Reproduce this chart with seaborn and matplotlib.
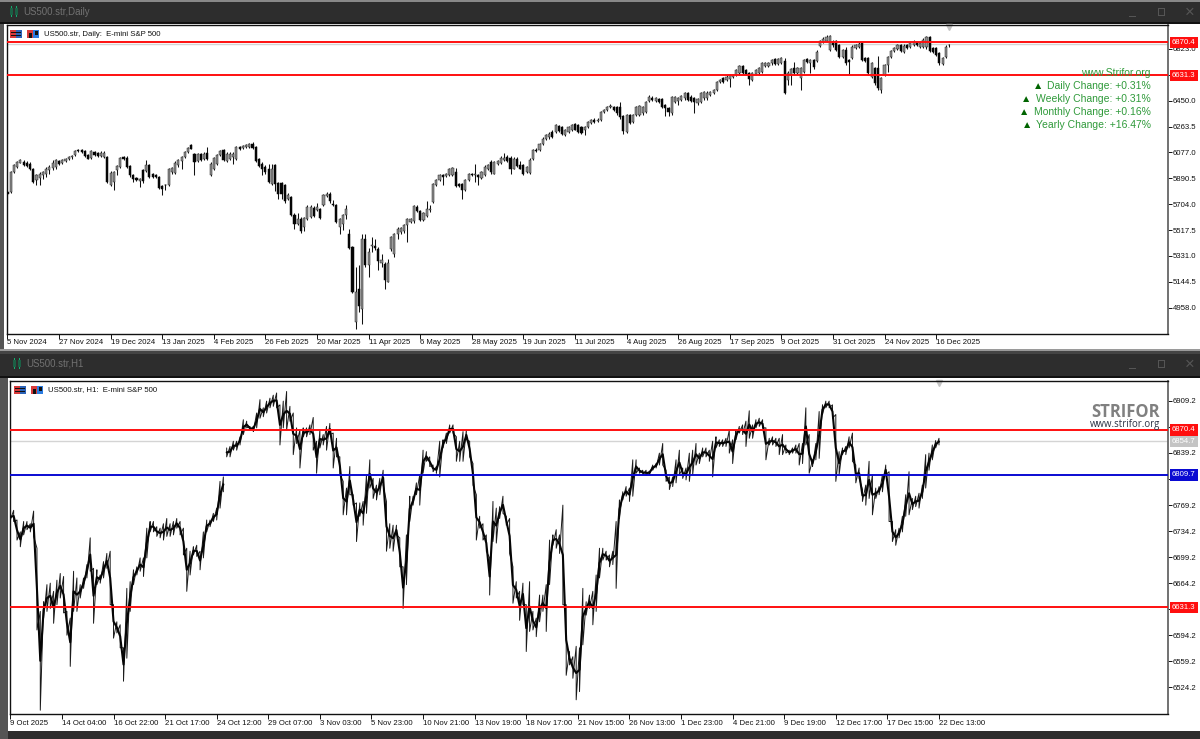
import numpy as np
import pandas as pd
import seaborn as sns
from matplotlib import pyplot as plt
from matplotlib.patches import Rectangle
from matplotlib.transforms import blended_transform_factory

W, H = 1200, 739

# Daily candles
daily_open = [
    5792, 5792, 5936, 5972, 6004, 6008, 6004, 5996, 5960, 5876, 5893, 5912, 5924, 5948, 5965, 5972,
    6013, 6004, 6013, 6028, 6042, 6057, 6093, 6095, 6085, 6060, 6037, 6080, 6071, 6052, 6042, 6045,
    5845, 5864, 5948, 5972, 6045, 6040, 5980, 5912, 5893, 5870, 5948, 5941, 5989, 5924, 5917, 5900,
    5835, 5840, 5840, 5936, 5931, 5984, 6013, 6045, 6081, 6129, 6069, 6013, 6069, 6032, 6076, 5917,
    5960, 5996, 6057, 6093, 6013, 6028, 6045, 6032, 6117, 6109, 6117, 6117, 6141, 6117, 6032, 5996,
    5972, 5960, 5852, 5989, 5859, 5859, 5845, 5739, 5756, 5624, 5564, 5600, 5540, 5600, 5612, 5677,
    5660, 5672, 5696, 5763, 5780, 5708, 5696, 5540, 5564, 5628, 5491, 5395, 4854, 5090, 4950, 5455,
    5268, 5402, 5402, 5383, 5282, 5275, 5147, 5378, 5347, 5491, 5503, 5508, 5556, 5575, 5580, 5684,
    5652, 5588, 5619, 5660, 5720, 5845, 5876, 5917, 5907, 5912, 5912, 5936, 5852, 5852, 5804, 5876,
    5924, 5912, 5912, 5893, 5912,
    5961, 6009, 5925, 5997, 6002, 6021, 6045, 6040, 5961, 6033, 5985, 5985, 5937, 5930, 6033, 6098,
    6093, 6141, 6177, 6185, 6225, 6225, 6266, 6257, 6201, 6225, 6237, 6281, 6274, 6261, 6237, 6257,
    6290, 6314, 6305, 6314, 6370, 6382, 6401, 6401, 6401, 6401, 6338, 6225, 6346, 6298, 6346, 6346,
    6358, 6370, 6449, 6466, 6449, 6459, 6459, 6418, 6394, 6358, 6442, 6449, 6454, 6466, 6502, 6478,
    6466, 6430, 6442, 6466, 6466, 6490, 6507, 6526, 6586, 6610, 6598, 6603, 6617, 6634, 6646, 6699,
    6670, 6646, 6598, 6642, 6646, 6658, 6699, 6699, 6718, 6747, 6714, 6723, 6738, 6598, 6634, 6682,
    6646, 6610, 6658, 6747, 6723, 6742, 6738, 6844, 6875, 6882, 6815, 6875, 6882, 6851, 6762, 6815,
    6742, 6755, 6827, 6839, 6863, 6755, 6755, 6622, 6682, 6682, 6526, 6634, 6706, 6762, 6810, 6820,
    6851, 6803, 6851, 6839, 6851, 6870, 6839, 6839, 6834, 6906, 6827, 6827, 6791, 6714, 6762, 6848,
]
daily_close = [
    5780, 5936, 5984, 6008, 6020, 5989, 5980, 5960, 5864, 5912, 5924, 5936, 5960, 5972, 6004, 6020,
    5996, 6020, 6032, 6045, 6052, 6085, 6085, 6080, 6052, 6032, 6085, 6057, 6052, 6076, 6076, 5864,
    5931, 5936, 5980, 6037, 6032, 5972, 5912, 5883, 5876, 5885, 5869, 5984, 5900, 5900, 5898, 5821,
    5816, 5845, 5956, 5965, 6004, 6020, 6045, 6081, 6109, 6105, 6008, 6069, 6020, 6069, 6032, 5996,
    6037, 6061, 6085, 6020, 6069, 6069, 6069, 6117, 6105, 6124, 6129, 6141, 6109, 6013, 5980, 5960,
    5936, 5864, 5956, 5852, 5780, 5780, 5725, 5773, 5624, 5564, 5600, 5508, 5604, 5684, 5684, 5619,
    5684, 5604, 5768, 5780, 5725, 5696, 5576, 5600, 5628, 5672, 5388, 5070, 5070, 4974, 5455, 5263,
    5359, 5412, 5388, 5292, 5299, 5155, 5282, 5467, 5491, 5527, 5532, 5551, 5595, 5595, 5691, 5652,
    5588, 5643, 5667, 5672, 5852, 5876, 5912, 5900, 5924, 5960, 5965, 5835, 5835, 5804, 5876, 5924,
    5912, 5924, 5900, 5936, 5972,
    5985, 5937, 6009, 6014, 6040, 6040, 6016, 5961, 6033, 5978, 5961, 5920, 5973, 6026, 6093, 6088,
    6136, 6177, 6201, 6213, 6189, 6274, 6233, 6209, 6237, 6261, 6274, 6242, 6225, 6218, 6261, 6298,
    6310, 6298, 6314, 6370, 6382, 6401, 6411, 6382, 6358, 6329, 6233, 6346, 6290, 6346, 6401, 6411,
    6406, 6442, 6478, 6454, 6466, 6442, 6406, 6394, 6370, 6473, 6478, 6466, 6483, 6502, 6454, 6449,
    6442, 6459, 6502, 6514, 6507, 6514, 6526, 6586, 6598, 6586, 6622, 6634, 6634, 6670, 6699, 6651,
    6642, 6603, 6646, 6670, 6682, 6718, 6718, 6723, 6742, 6714, 6747, 6755, 6502, 6646, 6675, 6646,
    6682, 6682, 6742, 6730, 6742, 6694, 6803, 6882, 6892, 6906, 6916, 6851, 6815, 6767, 6815, 6718,
    6730, 6839, 6851, 6858, 6742, 6738, 6646, 6718, 6574, 6538, 6610, 6706, 6767, 6810, 6827, 6851,
    6810, 6844, 6827, 6868, 6875, 6851, 6868, 6887, 6906, 6810, 6803, 6779, 6718, 6755, 6839, 6851,
]
daily_high = [
    5800, 5945, 5992, 6018, 6030, 6020, 6015, 6008, 5968, 5925, 5935, 5945, 5970, 5985, 6020, 6030,
    6025, 6030, 6040, 6052, 6060, 6095, 6100, 6102, 6095, 6068, 6095, 6090, 6080, 6085, 6085, 6050,
    5940, 5945, 5985, 6045, 6050, 6048, 5985, 5925, 5900, 5895, 5955, 6020, 5995, 5930, 5925, 5908,
    5842, 5852, 5965, 5975, 6012, 6030, 6052, 6090, 6117, 6135, 6075, 6075, 6075, 6078, 6117, 6005,
    6045, 6068, 6095, 6100, 6078, 6078, 6078, 6125, 6125, 6132, 6135, 6148, 6150, 6125, 6040, 6005,
    5985, 5995, 5995, 5995, 5865, 5865, 5852, 5785, 5762, 5640, 5640, 5610, 5612, 5695, 5695, 5690,
    5715, 5680, 5775, 5790, 5790, 5732, 5702, 5608, 5635, 5696, 5523, 5400, 5250, 5263, 5490, 5490,
    5385, 5467, 5455, 5395, 5347, 5285, 5311, 5475, 5500, 5540, 5540, 5562, 5605, 5605, 5700, 5695,
    5660, 5650, 5725, 5700, 5860, 5885, 5920, 5925, 5932, 5968, 5972, 5968, 5860, 5860, 5885, 5932,
    5932, 5996, 5925, 5945, 5985,
    5995, 6020, 6018, 6025, 6050, 6074, 6055, 6050, 6045, 6042, 6016, 5992, 5982, 6035, 6102, 6108,
    6145, 6186, 6210, 6222, 6235, 6285, 6275, 6265, 6245, 6270, 6282, 6290, 6282, 6270, 6270, 6306,
    6318, 6322, 6322, 6378, 6390, 6410, 6425, 6410, 6410, 6442, 6345, 6355, 6355, 6355, 6410, 6420,
    6415, 6450, 6490, 6480, 6478, 6470, 6470, 6428, 6402, 6482, 6486, 6475, 6492, 6512, 6512, 6488,
    6475, 6468, 6510, 6522, 6516, 6522, 6534, 6595, 6608, 6620, 6632, 6642, 6642, 6680, 6708, 6708,
    6680, 6655, 6655, 6680, 6692, 6728, 6728, 6732, 6752, 6755, 6755, 6762, 6755, 6665, 6685, 6730,
    6692, 6690, 6752, 6755, 6752, 6750, 6812, 6890, 6905, 6922, 6925, 6885, 6890, 6860, 6825, 6839,
    6748, 6848, 6860, 6872, 6875, 6762, 6765, 6728, 6692, 6770, 6620, 6716, 6775, 6818, 6835, 6860,
    6860, 6855, 6860, 6878, 6885, 6880, 6878, 6898, 6915, 6915, 6835, 6835, 6800, 6765, 6848, 6858,
]
daily_low = [
    5715, 5785, 5928, 5965, 5998, 5982, 5972, 5952, 5856, 5840, 5840, 5885, 5900, 5925, 5950, 5960,
    5985, 5995, 6005, 6020, 6030, 6050, 6078, 6072, 6045, 6028, 6030, 6050, 6045, 6045, 6035, 5860,
    5835, 5804, 5915, 5965, 6025, 5965, 5900, 5865, 5868, 5828, 5860, 5935, 5893, 5890, 5890, 5812,
    5768, 5805, 5832, 5925, 5925, 5975, 5960, 6035, 6072, 6100, 5912, 6005, 6012, 6025, 6025, 5910,
    5952, 5988, 6050, 6012, 6005, 6020, 5996, 6025, 6098, 6102, 6110, 6110, 6102, 6005, 5972, 5912,
    5925, 5855, 5845, 5800, 5739, 5740, 5715, 5732, 5618, 5528, 5555, 5500, 5510, 5590, 5605, 5610,
    5652, 5600, 5690, 5755, 5715, 5690, 5570, 5492, 5520, 5600, 5380, 5065, 4806, 4930, 4842, 5255,
    5179, 5359, 5371, 5227, 5251, 5095, 5140, 5370, 5323, 5455, 5490, 5500, 5431, 5565, 5572, 5645,
    5580, 5580, 5612, 5650, 5712, 5838, 5870, 5845, 5900, 5905, 5905, 5828, 5828, 5739, 5798, 5868,
    5905, 5864, 5840, 5885, 5905,
    5950, 5925, 5918, 5990, 5995, 6012, 6008, 5925, 5955, 5970, 5955, 5912, 5930, 5922, 6025, 6080,
    6085, 6132, 6170, 6175, 6180, 6215, 6225, 6200, 6195, 6218, 6230, 6235, 6215, 6210, 6200, 6250,
    6282, 6290, 6298, 6305, 6362, 6375, 6395, 6375, 6350, 6320, 6213, 6215, 6282, 6290, 6338, 6338,
    6350, 6362, 6440, 6445, 6440, 6435, 6398, 6338, 6340, 6346, 6435, 6418, 6445, 6458, 6445, 6440,
    6358, 6422, 6435, 6458, 6458, 6482, 6498, 6518, 6578, 6578, 6590, 6550, 6610, 6625, 6638, 6642,
    6634, 6562, 6590, 6634, 6638, 6650, 6690, 6692, 6710, 6706, 6706, 6715, 6495, 6560, 6562, 6638,
    6640, 6526, 6650, 6722, 6651, 6675, 6730, 6836, 6868, 6875, 6805, 6840, 6808, 6758, 6755, 6710,
    6639, 6748, 6820, 6830, 6735, 6730, 6638, 6615, 6565, 6530, 6507, 6626, 6655, 6755, 6803, 6812,
    6802, 6795, 6820, 6830, 6843, 6843, 6830, 6830, 6825, 6800, 6795, 6770, 6710, 6705, 6755, 6840,
]
daily_ticks = [
    "5 Nov 2024", "27 Nov 2024", "19 Dec 2024", "13 Jan 2025", "4 Feb 2025", "26 Feb 2025",
    "20 Mar 2025", "11 Apr 2025", "6 May 2025", "28 May 2025", "19 Jun 2025", "11 Jul 2025",
    "4 Aug 2025", "26 Aug 2025", "17 Sep 2025", "9 Oct 2025", "31 Oct 2025", "24 Nov 2025",
    "16 Dec 2025",
]
daily_prices = [4958.0, 5144.5, 5331.0, 5517.5, 5704.0, 5890.5, 6077.0, 6263.5, 6450.0, 6636.5, 6823.0]

# Hourly high/low range per small group of bars
h1_high = [
    6757, 6762, 6749, 6733, 6747, 6747, 6744, 6761, 6711, 6626, 6639, 6662, 6664, 6653, 6668, 6677,
    6673, 6626, 6617, 6680, 6671, 6662, 6671, 6689, 6725, 6684, 6682, 6675, 6693, 6704, 6707, 6635,
    6612, 6608, 6577, 6657, 6666, 6682, 6686, 6698, 6698, 6738, 6747, 6747, 6740, 6738, 6744, 6751,
    6744, 6747, 6751, 6747, 6738, 6711, 6707, 6713, 6715, 6707, 6733, 6749, 6749, 6758, 6765, 6801,
    6807,
    6846, 6848, 6855, 6855, 6861, 6884, 6882, 6875, 6875, 6893, 6911, 6900, 6909, 6913, 6917, 6920,
    6904, 6909, 6922, 6902, 6893, 6873, 6870, 6873, 6873, 6877, 6887, 6855, 6870, 6864, 6875, 6879,
    6866, 6859, 6834, 6801, 6792, 6821, 6783, 6772, 6772, 6774, 6810, 6830, 6805, 6796, 6805, 6816,
    6774, 6744, 6742, 6742, 6725, 6686, 6729, 6781, 6781, 6799, 6810, 6843, 6841, 6834, 6823, 6821,
    6855, 6857, 6866, 6877, 6877, 6861, 6855, 6868, 6870, 6855, 6825, 6783, 6754, 6744, 6729, 6698,
    6774, 6765, 6767, 6781, 6754, 6751, 6686, 6666, 6653, 6664, 6635, 6666, 6626, 6617, 6648, 6648,
    6662, 6722, 6729, 6736, 6729, 6769, 6635, 6572, 6565, 6579, 6577, 6657, 6639, 6648, 6653, 6675,
    6711, 6711, 6707, 6702, 6707, 6747, 6776, 6787, 6794, 6792, 6830, 6830, 6819, 6816, 6816, 6815,
    6823, 6825, 6839, 6852, 6816, 6807, 6807, 6830, 6843, 6819, 6819, 6839, 6843, 6852, 6839, 6846,
    6846, 6843, 6855, 6861, 6857, 6857, 6859, 6870, 6857, 6870, 6875, 6877, 6882, 6896, 6877, 6884,
    6886, 6884, 6873, 6859, 6861, 6859, 6859, 6864, 6850, 6843, 6846, 6850, 6852, 6852, 6900, 6864,
    6830, 6852, 6895, 6904, 6909, 6909, 6904, 6891, 6841, 6846, 6848, 6861, 6866, 6823, 6819, 6790,
    6796, 6828, 6810, 6792, 6794, 6810, 6823, 6814, 6747, 6736, 6738, 6754, 6783, 6814, 6778, 6781,
    6785, 6796, 6837, 6839, 6850, 6856, 6859,
]
h1_low = [
    6749, 6747, 6722, 6713, 6729, 6736, 6733, 6727, 6601, 6493, 6617, 6626, 6630, 6610, 6635, 6644,
    6624, 6594, 6552, 6626, 6626, 6644, 6657, 6671, 6680, 6610, 6662, 6664, 6671, 6684, 6635, 6590,
    6597, 6577, 6532, 6563, 6626, 6662, 6675, 6680, 6673, 6698, 6733, 6733, 6727, 6725, 6722, 6727,
    6727, 6729, 6738, 6729, 6702, 6653, 6675, 6702, 6700, 6682, 6698, 6733, 6740, 6747, 6749, 6765,
    6787,
    6834, 6834, 6843, 6843, 6850, 6864, 6873, 6870, 6868, 6873, 6886, 6888, 6893, 6900, 6902, 6900,
    6850, 6873, 6870, 6882, 6837, 6852, 6819, 6861, 6861, 6864, 6843, 6812, 6846, 6850, 6843, 6864,
    6819, 6834, 6810, 6756, 6756, 6783, 6769, 6720, 6754, 6742, 6758, 6792, 6778, 6776, 6783, 6796,
    6707, 6711, 6707, 6729, 6686, 6630, 6662, 6747, 6769, 6783, 6769, 6812, 6828, 6821, 6814, 6812,
    6807, 6846, 6852, 6866, 6866, 6828, 6828, 6828, 6857, 6834, 6796, 6722, 6738, 6722, 6707, 6648,
    6720, 6718, 6751, 6758, 6742, 6704, 6637, 6644, 6614, 6635, 6572, 6599, 6601, 6592, 6612, 6626,
    6599, 6662, 6715, 6711, 6704, 6635, 6540, 6554, 6536, 6507, 6518, 6581, 6621, 6630, 6608, 6626,
    6671, 6695, 6695, 6686, 6689, 6657, 6751, 6776, 6781, 6774, 6781, 6812, 6812, 6810, 6809, 6810,
    6816, 6819, 6823, 6823, 6801, 6790, 6794, 6799, 6810, 6805, 6803, 6801, 6810, 6823, 6825, 6834,
    6834, 6828, 6807, 6846, 6848, 6848, 6848, 6839, 6825, 6857, 6866, 6864, 6848, 6859, 6859, 6873,
    6875, 6873, 6830, 6850, 6850, 6848, 6837, 6837, 6839, 6837, 6839, 6839, 6823, 6825, 6850, 6812,
    6821, 6830, 6832, 6891, 6900, 6900, 6886, 6801, 6810, 6837, 6837, 6846, 6828, 6799, 6805, 6774,
    6769, 6778, 6756, 6778, 6783, 6787, 6810, 6747, 6720, 6715, 6725, 6733, 6754, 6756, 6763, 6767,
    6765, 6778, 6792, 6816, 6830, 6846, 6850,
]
h1_gap_after = 65  # first group of the session after the weekend gap
h1_ticks = [
    "9 Oct 2025", "14 Oct 04:00", "16 Oct 22:00", "21 Oct 17:00", "24 Oct 12:00", "29 Oct 07:00",
    "3 Nov 03:00", "5 Nov 23:00", "10 Nov 21:00", "13 Nov 19:00", "18 Nov 17:00", "21 Nov 15:00",
    "26 Nov 13:00", "1 Dec 23:00", "4 Dec 21:00", "9 Dec 19:00", "12 Dec 17:00", "17 Dec 15:00",
    "22 Dec 13:00",
]
h1_prices = [6524.2, 6559.2, 6594.2, 6629.2, 6664.2, 6699.2, 6734.2, 6769.2, 6804.2, 6839.2, 6874.2, 6909.2]

resistance = 6870.4
support = 6631.3
current = 6854.7
pivot = 6809.7

change_rows = ["Daily Change: +0.31%", "Weekly Change: +0.31%", "Monthly Change: +0.16%", "Yearly Change: +16.47%"]

sns.set_theme(style="white")
plt.rcParams["font.family"] = ["Liberation Sans", "DejaVu Sans"]
plt.rcParams["font.size"] = 5.6

fig = plt.figure(figsize=(W / 100, H / 100), dpi=100, facecolor="#2d2d2d")


def box(x0, y0, x1, y1, color, z=-1):
    fig.add_artist(
        Rectangle((x0 / W, 1 - y1 / H), (x1 - x0) / W, (y1 - y0) / H, transform=fig.transFigure,
                  facecolor=color, edgecolor="none", zorder=z)
    )


def label(x, y, s, **kw):
    fig.text(x / W, 1 - y / H, s, va="center", **kw)


def axes_at(x0, y0, x1, y1):
    return fig.add_axes([x0 / W, 1 - y1 / H, (x1 - x0) / W, (y1 - y0) / H])


def window_chrome(top, title, left):
    # title bar, candle glyph, window buttons
    box(left + 6, top + 5, left + 7, top + 16, "#12b070", 2)
    box(left + 11, top + 5, left + 12, top + 16, "#12b070", 2)
    box(left + 5, top + 7, left + 8, top + 14, "#1c5f45", 2)
    box(left + 10, top + 7, left + 13, top + 14, "#1c5f45", 2)
    label(left + 18, top + 11, title, color="#727272", fontsize=6.9)
    box(1129, top + 15, 1136, top + 16, "#555555", 2)
    box(1158, top + 7, 1165, top + 15, "#555555", 2)
    box(1159, top + 8, 1164, top + 14, "#2d2d2d", 2)
    label(1190, top + 11, "×", color="#555555", fontsize=12, ha="center")


def menu_icons(x, y, title):
    # the little toolbar glyphs beside the symbol name
    box(x, y, x + 12, y + 8, "#d83a3a", 4)
    box(x + 6, y, x + 12, y + 8, "#2a62b8", 4)
    box(x + 1, y + 2, x + 11, y + 3, "#111111", 5)
    box(x + 1, y + 5, x + 11, y + 6, "#111111", 5)
    box(x + 17, y, x + 23, y + 8, "#d83a3a", 4)
    box(x + 23, y, x + 29, y + 8, "#2a7be0", 4)
    box(x + 19, y + 3, x + 22, y + 8, "#111111", 5)
    box(x + 25, y + 1, x + 28, y + 5, "#111111", 5)
    label(x + 34, y + 4, title, color="#111111", fontsize=5.6, zorder=6)


def style_axes(ax, prices, ticks, step):
    ax.set_facecolor("white")
    for side in ["left", "top", "bottom"]:
        ax.spines[side].set_color("#111111")
        ax.spines[side].set_linewidth(1.0)
    ax.spines["right"].set_color("#666666")
    ax.spines["right"].set_linewidth(1.3)
    ax.yaxis.tick_right()
    ax.set_yticks(prices)
    ax.set_yticklabels([f"{p:.1f}" for p in prices])
    ax.set_xticks(np.arange(len(ticks)) * step)
    ax.set_xticklabels(ticks, ha="left")
    ax.tick_params(axis="y", length=3, width=0.7, pad=0.5, labelsize=5.6, colors="#111111", right=True)
    ax.tick_params(axis="x", length=3.5, width=0.7, pad=0.8, labelsize=5.6, colors="#111111", bottom=True)
    ax.set_xlabel("")
    ax.set_ylabel("")


def price_tag(ax, price, color):
    ax.axhline(price, color=color, lw=1.4, zorder=4)
    ax.text(1.0035, price, f"{price:.1f}", transform=ax.get_yaxis_transform(), color="white",
            fontsize=5.6, va="center", ha="left", zorder=8, clip_on=False,
            bbox=dict(facecolor=color, edgecolor="none", pad=1.6))


# frame and client areas
box(0, 0, W, 1.5, "#888888")
box(0, 22, W, 23.5, "#111111")
box(0, 24, 4, 349, "#555555")
box(4, 24, W, 349, "white")
box(0, 349, W, 351, "#9a9a9a")
box(0, 351, W, 354, "#444444")
box(0, 376, W, 378, "#111111")
box(0, 378, 8, 739, "#555555")
box(8, 378, W, 731, "white")
window_chrome(1, "US500.str,Daily", 5)
window_chrome(353, "US500.str,H1", 8)

# top panel: daily candles
daily = pd.DataFrame({"open": daily_open, "close": daily_close, "high": daily_high, "low": daily_low})
daily["bar"] = daily.index
ax1 = axes_at(6.5, 25, 1168, 333.5)
ax1.vlines(daily["bar"], daily["low"], daily["high"], color="#111111", lw=0.75, zorder=2)
rising = daily[daily["close"] >= daily["open"]]
falling = daily[daily["close"] < daily["open"]]
ax1.bar(rising["bar"], (rising["close"] - rising["open"]).clip(lower=3), bottom=rising["open"], width=0.66,
        facecolor="#8f8f8f", edgecolor="#222222", linewidth=0.35, zorder=3)
ax1.bar(falling["bar"], falling["open"] - falling["close"], bottom=falling["close"], width=0.66,
        facecolor="#050505", edgecolor="#050505", linewidth=0.35, zorder=3)
ax1.set_xlim(-0.3, 359.9)
ax1.set_ylim(4772.5, 6995)
style_axes(ax1, daily_prices, daily_ticks, 16)
ax1.axhline(current, color="#d4d4d4", lw=1.0, zorder=1)
price_tag(ax1, resistance, "#ff0f0f")
price_tag(ax1, support, "#ff0f0f")
trans1 = blended_transform_factory(ax1.transData, ax1.transAxes)
ax1.plot([len(daily) - 1], [0.992], transform=trans1, marker="v", ms=4.5, color="#c4c4c4", clip_on=False)

# change table
green = "#2f9a3a"
label(1151, 73, "www.Strifor.org", color=green, fontsize=7.5, ha="right", zorder=6)
for y, row, tri_x in zip([86, 99, 112, 125], change_rows, [1038, 1026, 1024, 1027]):
    label(1151, y, row, color=green, fontsize=7.5, ha="right", zorder=6)
    label(tri_x, y, "▲", color="#006400", fontsize=7.5, ha="center", zorder=6)

# bottom panel: hourly range, thin swing plus a heavier mean core
h1 = pd.DataFrame({
    "group": np.repeat(np.arange(len(h1_high)), 2),
    "price": np.column_stack([h1_high, h1_low]).ravel(),
})
h1["session"] = (h1["group"] >= h1_gap_after).astype(int)
ax2 = axes_at(10, 381, 1168, 714)
sns.lineplot(data=h1, x="group", y="price", units="session", estimator=None, sort=False,
             color="#1a1a1a", lw=0.7, ax=ax2, zorder=2)
for s in [0, 1]:
    sns.lineplot(data=h1[h1["session"] == s], x="group", y="price", estimator="mean", errorbar=None,
                 color="#050505", lw=1.5, ax=ax2, zorder=3)
ax2.set_xlim(-0.1, 347.8)
ax2.set_ylim(6487.9, 6936.1)
style_axes(ax2, h1_prices, h1_ticks, 15.5)
ax2.axhline(current, color="#d4d4d4", lw=1.0, zorder=1)
ax2.text(1.0035, current, f"{current:.1f}", transform=ax2.get_yaxis_transform(), color="white", fontsize=5.6,
         va="center", ha="left", zorder=8, clip_on=False, bbox=dict(facecolor="#c4c4c4", edgecolor="none", pad=1.6))
price_tag(ax2, resistance, "#ff0f0f")
price_tag(ax2, support, "#ff0f0f")
price_tag(ax2, pivot, "#0a0ad2")
trans2 = blended_transform_factory(ax2.transData, ax2.transAxes)
ax2.plot([len(h1_high) - 1], [0.993], transform=trans2, marker="v", ms=4.5, color="#c4c4c4", clip_on=False)

label(1160, 412, "STRIFOR", color="#808080", fontsize=12, fontweight="bold", family="Open Sans", ha="right", zorder=6)
label(1160, 424.5, "www.strifor.org", color="#2c3445", fontsize=6.9, family="Open Sans", ha="right", zorder=6)

menu_icons(10, 30, "US500.str, Daily:  E-mini S&P 500")
menu_icons(14, 386, "US500.str, H1:  E-mini S&P 500")

fig.savefig("out.png", dpi=100, facecolor=fig.get_facecolor())
